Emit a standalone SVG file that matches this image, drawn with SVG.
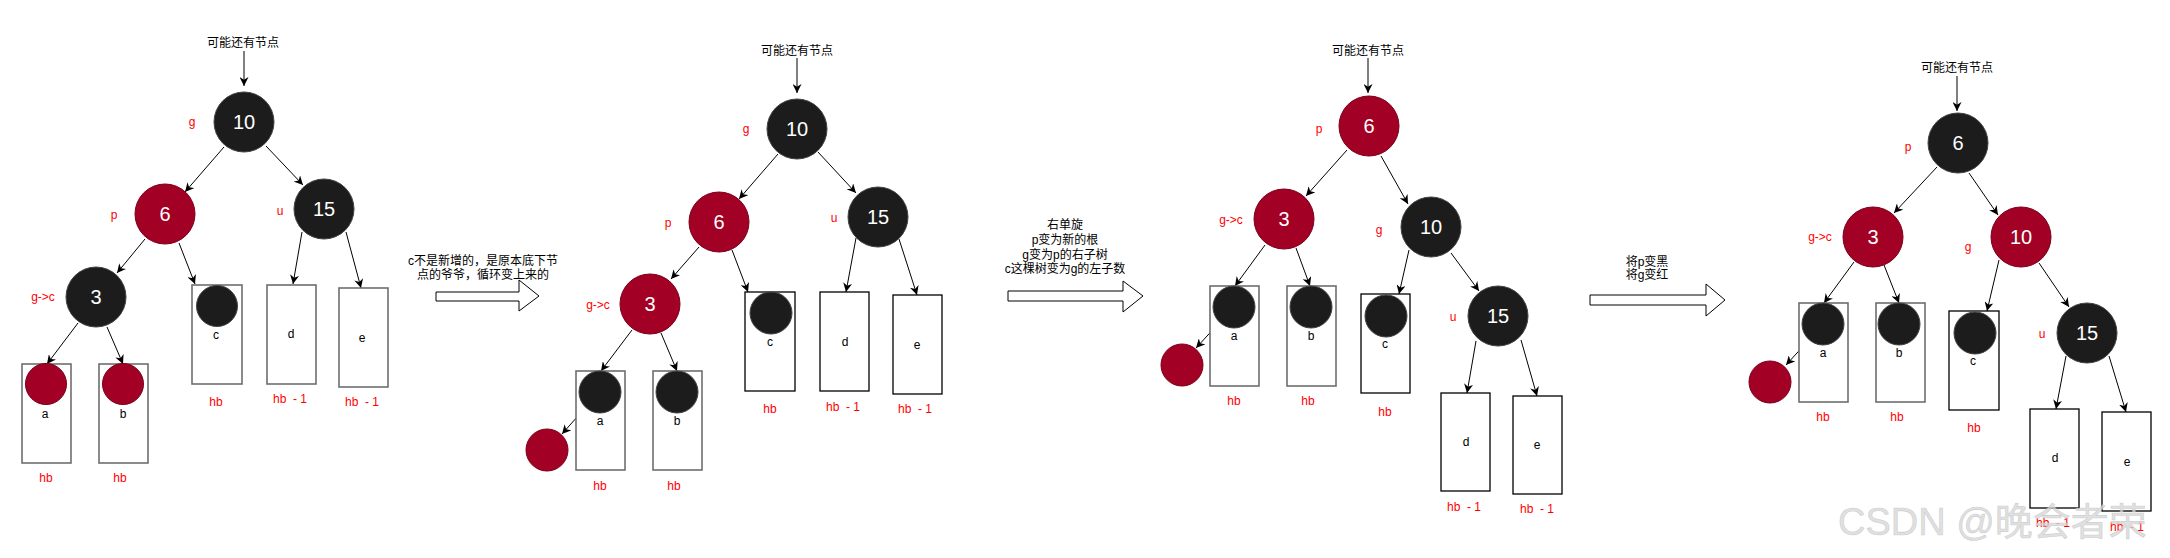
<svg xmlns="http://www.w3.org/2000/svg" width="2170" height="558" viewBox="0 0 2170 558">
<defs>
<marker id="arr" viewBox="0 0 10 10" refX="10" refY="5" markerWidth="9" markerHeight="9" orient="auto" markerUnits="userSpaceOnUse">
<path d="M0,0 L10,5 L0,10 L3,5 Z" fill="#000"/>
</marker>
<style>
.nb{fill:#1c1c1c;stroke:#444;stroke-width:1}
.nr{fill:#a20025;stroke:#7a0018;stroke-width:1}
.nt{font-family:"Liberation Sans",Arial,sans-serif;font-size:20px;fill:#fff;text-anchor:middle;dominant-baseline:central}
.lbl{font-family:"Liberation Sans",Arial,sans-serif;font-size:12px;fill:#ff0000;text-anchor:middle;dominant-baseline:central;white-space:pre}
.lt{font-family:"Liberation Sans",Arial,sans-serif;font-size:12px;fill:#000;text-anchor:middle;dominant-baseline:central}
.cn{font-family:"Liberation Sans","Noto Sans CJK SC",sans-serif;font-size:12px;fill:#000;text-anchor:middle;dominant-baseline:central}
.box{fill:#fff;stroke:#6e6e6e;stroke-width:1.6}
.boxk{fill:#fff;stroke:#000;stroke-width:1.3}
.edge{stroke:#000;stroke-width:1;fill:none;marker-end:url(#arr)}
.big{fill:#fff;stroke:#000;stroke-width:1}
.wm{font-family:"Liberation Sans","Noto Sans CJK SC",sans-serif;font-size:38px;fill:#d8d8d8;fill-opacity:0.8;stroke:#bbb;stroke-width:0.6;stroke-opacity:0.6}
</style>
</defs>
<rect width="2170" height="558" fill="#fff"/>

<!-- connectors -->
<g id="connectors">
<!-- panel 1 -->
<line class="edge" x1="244" y1="51" x2="244" y2="86"/>
<line class="edge" x1="224" y1="147" x2="185" y2="192"/>
<line class="edge" x1="266" y1="146" x2="303" y2="185"/>
<line class="edge" x1="145" y1="239" x2="117" y2="273"/>
<line class="edge" x1="179" y1="243" x2="195" y2="284"/>
<line class="edge" x1="302" y1="232" x2="293" y2="284"/>
<line class="edge" x1="346" y1="232" x2="361" y2="288"/>
<line class="edge" x1="78" y1="323" x2="47" y2="364"/>
<line class="edge" x1="107" y1="327" x2="123" y2="364"/>
<!-- panel 2 -->
<line class="edge" x1="797" y1="58" x2="797" y2="93"/>
<line class="edge" x1="778" y1="154" x2="739" y2="199"/>
<line class="edge" x1="818" y1="152" x2="856" y2="193"/>
<line class="edge" x1="699" y1="247" x2="671" y2="279"/>
<line class="edge" x1="732" y1="250" x2="748" y2="292"/>
<line class="edge" x1="856" y1="238" x2="846" y2="292"/>
<line class="edge" x1="899" y1="239" x2="917" y2="295"/>
<line class="edge" x1="632" y1="330" x2="601" y2="371"/>
<line class="edge" x1="661" y1="333" x2="677" y2="371"/>
<line class="edge" x1="585" y1="408" x2="562" y2="434"/>
<!-- panel 3 -->
<line class="edge" x1="1368" y1="58" x2="1368" y2="93"/>
<line class="edge" x1="1347" y1="150" x2="1306" y2="196"/>
<line class="edge" x1="1381" y1="156" x2="1408" y2="204"/>
<line class="edge" x1="1265" y1="245" x2="1235" y2="286"/>
<line class="edge" x1="1296" y1="248" x2="1310" y2="286"/>
<line class="edge" x1="1409" y1="250" x2="1399" y2="294"/>
<line class="edge" x1="1451" y1="253" x2="1479" y2="291"/>
<line class="edge" x1="1219" y1="323" x2="1196" y2="348"/>
<line class="edge" x1="1476" y1="341" x2="1467" y2="393"/>
<line class="edge" x1="1521" y1="340" x2="1537" y2="396"/>
<!-- panel 4 -->
<line class="edge" x1="1957" y1="76" x2="1957" y2="111"/>
<line class="edge" x1="1937" y1="167" x2="1894" y2="213"/>
<line class="edge" x1="1969" y1="173" x2="1998" y2="215"/>
<line class="edge" x1="1854" y1="262" x2="1824" y2="303"/>
<line class="edge" x1="1884" y1="265" x2="1899" y2="303"/>
<line class="edge" x1="1999" y1="260" x2="1987" y2="311"/>
<line class="edge" x1="2039" y1="263" x2="2069" y2="307"/>
<line class="edge" x1="1808" y1="341" x2="1786" y2="365"/>
<line class="edge" x1="2066" y1="356" x2="2056" y2="409"/>
<line class="edge" x1="2109" y1="356" x2="2126" y2="412"/>
</g>

<!-- ===== Panel 1 ===== -->
<g id="p1-top"><text class="cn" x="243" y="43">可能还有节点</text></g>
<g id="p1-n10"><circle class="nb" cx="244" cy="122" r="30"/><text class="nt" x="244" y="122">10</text><text class="lbl" x="192" y="122">g</text></g>
<g id="p1-n6"><circle class="nr" cx="165" cy="214" r="30"/><text class="nt" x="165" y="214">6</text><text class="lbl" x="114" y="215">p</text></g>
<g id="p1-n15"><circle class="nb" cx="324" cy="209" r="30"/><text class="nt" x="324" y="209">15</text><text class="lbl" x="280" y="211">u</text></g>
<g id="p1-n3"><circle class="nb" cx="96" cy="297" r="30"/><text class="nt" x="96" y="297">3</text><text class="lbl" x="43" y="297">g-&gt;c</text></g>
<g id="p1-a"><rect class="box" x="22" y="364" width="49" height="99"/><circle class="nr" cx="46" cy="384" r="20.5"/><text class="lt" x="45" y="414">a</text><text class="lbl" x="46" y="478">hb</text></g>
<g id="p1-b"><rect class="box" x="99" y="364" width="49" height="99"/><circle class="nr" cx="123" cy="384" r="20.5"/><text class="lt" x="123" y="414">b</text><text class="lbl" x="120" y="478">hb</text></g>
<g id="p1-c"><rect class="box" x="192" y="285" width="50" height="99"/><circle class="nb" cx="217" cy="306" r="20.5"/><text class="lt" x="216" y="335">c</text><text class="lbl" x="216" y="402">hb</text></g>
<g id="p1-d"><rect class="box" x="267" y="285" width="49" height="99"/><text class="lt" x="291" y="334">d</text><text class="lbl" x="290" y="399">hb  - 1</text></g>
<g id="p1-e"><rect class="box" x="339" y="288" width="49" height="99"/><text class="lt" x="362" y="338">e</text><text class="lbl" x="362" y="402">hb  - 1</text></g>

<g id="step1">
<text class="cn" x="483" y="261">c不是新增的，是原本底下节</text>
<text class="cn" x="483" y="275">点的爷爷，循环变上来的</text>
<path class="big" d="M436,292 L519,292 L519,280 L539,296 L519,311 L519,301 L436,301 Z"/>
</g>

<!-- ===== Panel 2 ===== -->
<g id="p2-top"><text class="cn" x="797" y="51">可能还有节点</text></g>
<g id="p2-n10"><circle class="nb" cx="797" cy="129" r="30"/><text class="nt" x="797" y="129">10</text><text class="lbl" x="746" y="129">g</text></g>
<g id="p2-n6"><circle class="nr" cx="719" cy="222" r="30"/><text class="nt" x="719" y="222">6</text><text class="lbl" x="668" y="223">p</text></g>
<g id="p2-n15"><circle class="nb" cx="878" cy="217" r="30"/><text class="nt" x="878" y="217">15</text><text class="lbl" x="834" y="218">u</text></g>
<g id="p2-n3"><circle class="nr" cx="650" cy="304" r="30"/><text class="nt" x="650" y="304">3</text><text class="lbl" x="598" y="305">g-&gt;c</text></g>
<g id="p2-a"><rect class="box" x="576" y="371" width="49" height="99"/><circle class="nb" cx="600" cy="392" r="21"/><text class="lt" x="600" y="421">a</text><text class="lbl" x="600" y="486">hb</text></g>
<g id="p2-b"><rect class="box" x="653" y="371" width="49" height="99"/><circle class="nb" cx="677" cy="392" r="21"/><text class="lt" x="677" y="421">b</text><text class="lbl" x="674" y="486">hb</text></g>
<g id="p2-new"><circle class="nr" cx="547" cy="450" r="21"/></g>
<g id="p2-c"><rect class="boxk" x="745" y="292" width="50" height="99"/><circle class="nb" cx="771" cy="313" r="21"/><text class="lt" x="770" y="342">c</text><text class="lbl" x="770" y="409">hb</text></g>
<g id="p2-d"><rect class="boxk" x="820" y="292" width="49" height="99"/><text class="lt" x="845" y="342">d</text><text class="lbl" x="843" y="407">hb  - 1</text></g>
<g id="p2-e"><rect class="boxk" x="893" y="295" width="49" height="99"/><text class="lt" x="917" y="345">e</text><text class="lbl" x="915" y="409">hb  - 1</text></g>

<g id="step2">
<text class="cn" x="1065" y="225">右单旋</text>
<text class="cn" x="1065" y="240">p变为新的根</text>
<text class="cn" x="1065" y="255">g变为p的右子树</text>
<text class="cn" x="1065" y="269">c这棵树变为g的左子数</text>
<path class="big" d="M1008,291 L1123,291 L1123,281 L1143,296 L1123,312 L1123,301 L1008,301 Z"/>
</g>

<!-- ===== Panel 3 ===== -->
<g id="p3-top"><text class="cn" x="1368" y="51">可能还有节点</text></g>
<g id="p3-n6"><circle class="nr" cx="1369" cy="126" r="30"/><text class="nt" x="1369" y="126">6</text><text class="lbl" x="1319" y="129">p</text></g>
<g id="p3-n3"><circle class="nr" cx="1284" cy="219" r="30"/><text class="nt" x="1284" y="219">3</text><text class="lbl" x="1231" y="220">g-&gt;c</text></g>
<g id="p3-n10"><circle class="nb" cx="1431" cy="227" r="30"/><text class="nt" x="1431" y="227">10</text><text class="lbl" x="1379" y="230">g</text></g>
<g id="p3-a"><rect class="box" x="1210" y="286" width="49" height="100"/><circle class="nb" cx="1234" cy="307" r="21"/><text class="lt" x="1234" y="336">a</text><text class="lbl" x="1234" y="401">hb</text></g>
<g id="p3-b"><rect class="box" x="1287" y="286" width="49" height="100"/><circle class="nb" cx="1311" cy="307" r="21"/><text class="lt" x="1311" y="336">b</text><text class="lbl" x="1308" y="401">hb</text></g>
<g id="p3-new"><circle class="nr" cx="1182" cy="365" r="21"/></g>
<g id="p3-c"><rect class="boxk" x="1361" y="294" width="49" height="99"/><circle class="nb" cx="1386" cy="316" r="21"/><text class="lt" x="1385" y="344">c</text><text class="lbl" x="1385" y="412">hb</text></g>
<g id="p3-n15"><circle class="nb" cx="1498" cy="316" r="30"/><text class="nt" x="1498" y="316">15</text><text class="lbl" x="1453" y="317">u</text></g>
<g id="p3-d"><rect class="boxk" x="1441" y="393" width="49" height="98"/><text class="lt" x="1466" y="442">d</text><text class="lbl" x="1464" y="507">hb  - 1</text></g>
<g id="p3-e"><rect class="boxk" x="1513" y="396" width="49" height="98"/><text class="lt" x="1537" y="445">e</text><text class="lbl" x="1537" y="509">hb  - 1</text></g>

<g id="step3">
<text class="cn" x="1647" y="262">将p变黑</text>
<text class="cn" x="1647" y="275">将g变红</text>
<path class="big" d="M1590,295 L1706,295 L1706,284 L1725,300 L1706,316 L1706,305 L1590,305 Z"/>
</g>

<!-- ===== Panel 4 ===== -->
<g id="p4-top"><text class="cn" x="1957" y="68">可能还有节点</text></g>
<g id="p4-n6"><circle class="nb" cx="1958" cy="143" r="30"/><text class="nt" x="1958" y="143">6</text><text class="lbl" x="1908" y="147">p</text></g>
<g id="p4-n3"><circle class="nr" cx="1873" cy="237" r="30"/><text class="nt" x="1873" y="237">3</text><text class="lbl" x="1820" y="237">g-&gt;c</text></g>
<g id="p4-n10"><circle class="nr" cx="2021" cy="237" r="30"/><text class="nt" x="2021" y="237">10</text><text class="lbl" x="1968" y="247">g</text></g>
<g id="p4-a"><rect class="box" x="1799" y="303" width="49" height="99"/><circle class="nb" cx="1823" cy="324" r="21"/><text class="lt" x="1823" y="353">a</text><text class="lbl" x="1823" y="417">hb</text></g>
<g id="p4-b"><rect class="box" x="1876" y="303" width="49" height="99"/><circle class="nb" cx="1899" cy="324" r="21"/><text class="lt" x="1899" y="353">b</text><text class="lbl" x="1897" y="417">hb</text></g>
<g id="p4-new"><circle class="nr" cx="1770" cy="382" r="21"/></g>
<g id="p4-c"><rect class="boxk" x="1949" y="311" width="50" height="99"/><circle class="nb" cx="1975" cy="333" r="21"/><text class="lt" x="1973" y="361">c</text><text class="lbl" x="1974" y="428">hb</text></g>
<g id="p4-n15"><circle class="nb" cx="2087" cy="333" r="30"/><text class="nt" x="2087" y="333">15</text><text class="lbl" x="2042" y="334">u</text></g>
<g id="p4-d"><rect class="boxk" x="2030" y="409" width="49" height="99"/><text class="lt" x="2055" y="458">d</text><text class="lbl" x="2053" y="523">hb  - 1</text></g>
<g id="p4-e"><rect class="boxk" x="2102" y="412" width="49" height="99"/><text class="lt" x="2127" y="462">e</text><text class="lbl" x="2127" y="527">hb  - 1</text></g>

<g id="watermark"><text class="wm" x="1838" y="535">CSDN @晚会者荣</text></g>
</svg>
